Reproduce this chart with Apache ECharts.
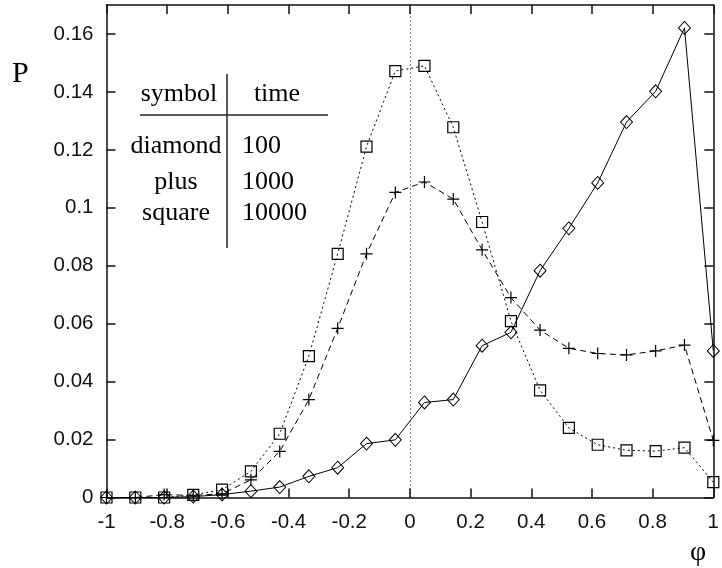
<!DOCTYPE html>
<html>
<head>
<meta charset="utf-8">
<script src="https://cdn.jsdelivr.net/npm/echarts@6/dist/echarts.min.js"></script>
<style>
  html, body { margin: 0; padding: 0; background: #fff; }
  #chart { width: 722px; height: 568px; }
</style>
</head>
<body>
<div id="chart"></div>
<script>
// phi values (x) and P values for each run
var phi = [-1, -0.905, -0.81, -0.714, -0.619, -0.524, -0.429, -0.333, -0.238, -0.143, -0.048,
           0.048, 0.143, 0.238, 0.333, 0.429, 0.524, 0.619, 0.714, 0.81, 0.905, 1];
var pDiamond = [0, 0, 0, 0.0003, 0.001, 0.0022, 0.0036, 0.0073, 0.0103, 0.0186, 0.0199,
                0.0328, 0.0338, 0.0524, 0.057, 0.0783, 0.0929, 0.1086, 0.1296, 0.1402, 0.1621, 0.0506];
var pPlus = [0, 0, 0.001, 0.0007, 0.0013, 0.0061, 0.0159, 0.0338, 0.0584, 0.0841, 0.1053,
             0.1089, 0.103, 0.0855, 0.069, 0.0578, 0.0515, 0.0497, 0.0492, 0.0506, 0.0526, 0.0197];
var pSquare = [0, 0, 0, 0.0009, 0.0027, 0.009, 0.022, 0.0488, 0.0841, 0.1211, 0.1472,
               0.149, 0.1278, 0.0951, 0.0609, 0.037, 0.024, 0.0182, 0.0163, 0.016, 0.0172, 0.0053];

var xTicks = [-1, -0.8, -0.6, -0.4, -0.2, 0, 0.2, 0.4, 0.6, 0.8, 1];
var yTicks = [0, 0.02, 0.04, 0.06, 0.08, 0.1, 0.12, 0.14, 0.16];

// legend table text
var tableHead = ['symbol', 'time'];
var symbolNames = ['diamond', 'plus', 'square'];
var timeValues = ['100', '1000', '10000'];

function pairs(ys) {
    var out = [];
    for (var i = 0; i < phi.length; i++) {
        out.push([phi[i], ys[i]]);
    }
    return out;
}

var chart = echarts.init(document.getElementById('chart'));

var frame = { show: true, onZero: false, lineStyle: { color: '#111', width: 1.5 } };
var tickIn = { show: true, inside: true, length: 9, lineStyle: { color: '#111', width: 1.5 } };
var labelFont = { color: '#111', fontSize: 20.5, fontFamily: 'Liberation Sans' };

var serif = 'Liberation Serif';
var graphics = [
    { type: 'text', left: 12, top: 59, style: { text: 'P', font: '30px "' + serif + '"', fill: '#000' } },
    { type: 'text', left: 690, top: 539, style: { text: 'φ', font: '28px "' + serif + '"', fill: '#000' } },
    // table lines
    { type: 'line', shape: { x1: 140, y1: 115, x2: 328, y2: 115 }, style: { stroke: '#222', lineWidth: 1.5 } },
    { type: 'line', shape: { x1: 227, y1: 74, x2: 227, y2: 248 }, style: { stroke: '#222', lineWidth: 1.5 } },
    { type: 'text', x: 179, y: 94.5, style: { text: tableHead[0], font: '26px "' + serif + '"', fill: '#000', align: 'center', verticalAlign: 'middle' } },
    { type: 'text', x: 277, y: 94.5, style: { text: tableHead[1], font: '26px "' + serif + '"', fill: '#000', align: 'center', verticalAlign: 'middle' } }
];
var rowY = [146, 182, 213.5];
for (var r = 0; r < symbolNames.length; r++) {
    graphics.push({ type: 'text', x: 176, y: rowY[r], style: { text: symbolNames[r], font: '26px "' + serif + '"', fill: '#000', align: 'center', verticalAlign: 'middle' } });
    graphics.push({ type: 'text', x: 242, y: rowY[r], style: { text: timeValues[r], font: '26px "' + serif + '"', fill: '#000', align: 'left', verticalAlign: 'middle' } });
}

var option = {
    animation: false,
    backgroundColor: '#fff',
    grid: { left: 106.5, right: 1, top: 5, bottom: 70.5 },
    xAxis: [{
        type: 'value', min: -1, max: 1, interval: 0.2, position: 'bottom',
        axisLine: frame, axisTick: Object.assign({ customValues: xTicks }, tickIn),
        axisLabel: Object.assign({ margin: 14, customValues: xTicks }, labelFont),
        splitLine: { show: false }
    }, {
        type: 'value', min: -1, max: 1, interval: 0.2, position: 'top',
        axisLine: frame, axisTick: Object.assign({ customValues: xTicks }, tickIn),
        axisLabel: { show: false }, splitLine: { show: false }
    }],
    yAxis: [{
        type: 'value', min: 0, max: 0.17, interval: 0.02, position: 'left',
        axisLine: frame, axisTick: Object.assign({ customValues: yTicks }, tickIn),
        axisLabel: Object.assign({ margin: 13, customValues: yTicks }, labelFont),
        splitLine: { show: false }
    }, {
        type: 'value', min: 0, max: 0.17, interval: 0.02, position: 'right',
        axisLine: frame, axisTick: Object.assign({ customValues: yTicks }, tickIn),
        axisLabel: { show: false }, splitLine: { show: false }
    }],
    graphic: graphics,
    series: [{
        name: 'diamond', type: 'line', data: pairs(pDiamond),
        symbol: 'diamond', symbolSize: [12, 13],
        itemStyle: { color: 'none', borderColor: '#000', borderWidth: 1 },
        lineStyle: { color: '#000', width: 1, type: 'solid' },
        markLine: {
            silent: true, symbol: 'none', label: { show: false },
            lineStyle: { color: '#000', width: 1, type: [1, 3] },
            data: [{ xAxis: 0 }]
        }
    }, {
        name: 'plus', type: 'line', data: pairs(pPlus),
        symbol: 'path://M0,6L12,6M6,0L6,12', symbolSize: 12,
        itemStyle: { color: 'none', borderColor: '#000', borderWidth: 1.2 },
        lineStyle: { color: '#000', width: 1, type: [6, 4] }
    }, {
        name: 'square', type: 'line', data: pairs(pSquare),
        symbol: 'rect', symbolSize: 11,
        itemStyle: { color: 'none', borderColor: '#000', borderWidth: 1.2 },
        lineStyle: { color: '#000', width: 1, type: [2, 3] }
    }]
};

chart.setOption(option);
</script>
</body>
</html>
